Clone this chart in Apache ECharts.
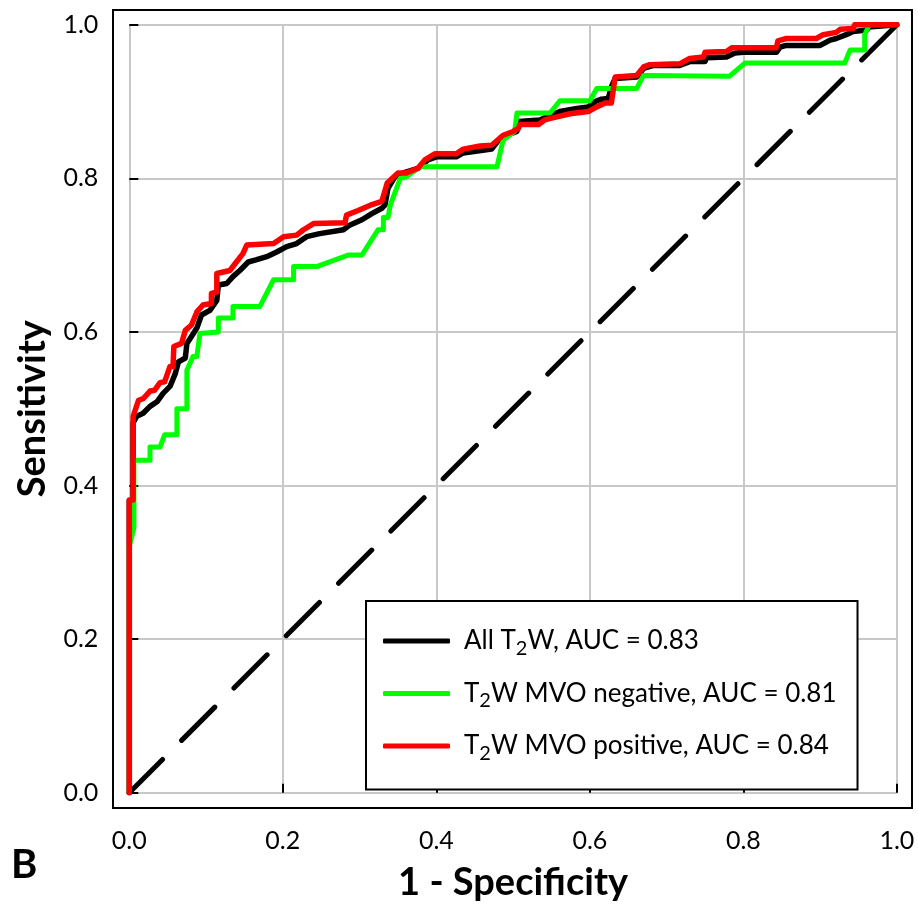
<!DOCTYPE html>
<html>
<head>
<meta charset="utf-8">
<title>ROC</title>
<script src="https://cdn.jsdelivr.net/npm/echarts@6/dist/echarts.min.js"></script>
<style>
  html, body { margin: 0; padding: 0; background: #fff; }
  #chart { width: 918px; height: 910px; }
</style>
</head>
<body>
<div id="chart"></div>
<script>
// ROC curves, [1 - specificity, sensitivity]
var allT2W = [
  [0,0],[0,0.38],[0.005,0.38],[0.005,0.482],[0.0096,0.49],[0.018,0.494],[0.027,0.503],[0.036,0.509],
  [0.044,0.52],[0.053,0.529],[0.060,0.546],[0.064,0.561],[0.073,0.566],[0.075,0.585],[0.081,0.594],
  [0.088,0.605],[0.094,0.622],[0.105,0.628],[0.114,0.641],[0.116,0.661],[0.127,0.663],[0.135,0.672],
  [0.144,0.68],[0.155,0.691],[0.166,0.694],[0.179,0.698],[0.192,0.704],[0.205,0.711],[0.218,0.715],
  [0.231,0.724],[0.248,0.728],[0.279,0.733],[0.287,0.739],[0.303,0.746],[0.316,0.754],[0.329,0.761],
  [0.333,0.765],[0.337,0.787],[0.346,0.802],[0.357,0.807],[0.376,0.813],[0.389,0.824],[0.400,0.828],
  [0.426,0.828],[0.435,0.833],[0.472,0.838],[0.483,0.852],[0.492,0.856],[0.505,0.861],[0.507,0.874],
  [0.535,0.876],[0.544,0.88],[0.561,0.887],[0.583,0.891],[0.598,0.893],[0.607,0.9],[0.615,0.903],
  [0.624,0.904],[0.628,0.919],[0.633,0.93],[0.661,0.932],[0.670,0.943],[0.683,0.947],[0.717,0.947],
  [0.730,0.952],[0.750,0.952],[0.752,0.957],[0.778,0.958],[0.789,0.963],[0.800,0.964],[0.843,0.964],
  [0.848,0.971],[0.856,0.973],[0.900,0.973],[0.913,0.98],[0.921,0.982],[0.934,0.987],[0.943,0.991],
  [0.961,0.993],[0.963,0.997],[1,1]
];
var mvoNegative = [
  [0,0],[0,0.32],[0.006,0.345],[0.006,0.433],[0.027,0.433],[0.027,0.45],[0.040,0.45],[0.046,0.466],
  [0.062,0.466],[0.062,0.5],[0.075,0.5],[0.075,0.55],[0.083,0.568],[0.088,0.568],[0.092,0.598],
  [0.116,0.6],[0.116,0.618],[0.135,0.618],[0.135,0.633],[0.170,0.633],[0.188,0.668],[0.214,0.668],
  [0.214,0.685],[0.244,0.685],[0.285,0.7],[0.303,0.7],[0.324,0.733],[0.331,0.733],[0.331,0.749],
  [0.337,0.749],[0.340,0.765],[0.353,0.8],[0.361,0.802],[0.379,0.815],[0.479,0.815],[0.487,0.85],
  [0.502,0.861],[0.505,0.885],[0.548,0.885],[0.561,0.901],[0.600,0.901],[0.609,0.917],[0.661,0.917],
  [0.670,0.934],[0.782,0.933],[0.802,0.95],[0.932,0.95],[0.939,0.967],[0.958,0.967],[0.958,0.987],
  [0.964,1],[1,1]
];
var mvoPositive = [
  [0,0],[0,0.381],[0.005,0.381],[0.005,0.49],[0.012,0.511],[0.018,0.513],[0.027,0.523],[0.033,0.524],
  [0.040,0.534],[0.046,0.535],[0.053,0.555],[0.057,0.555],[0.058,0.581],[0.068,0.585],[0.073,0.602],
  [0.081,0.609],[0.088,0.626],[0.096,0.635],[0.107,0.637],[0.107,0.65],[0.114,0.652],[0.114,0.676],
  [0.131,0.68],[0.138,0.689],[0.148,0.702],[0.153,0.713],[0.188,0.715],[0.201,0.724],[0.218,0.726],
  [0.227,0.733],[0.240,0.741],[0.281,0.742],[0.283,0.752],[0.298,0.758],[0.314,0.765],[0.329,0.77],
  [0.336,0.794],[0.350,0.807],[0.361,0.807],[0.376,0.813],[0.385,0.824],[0.398,0.832],[0.426,0.832],
  [0.435,0.838],[0.457,0.842],[0.472,0.843],[0.487,0.856],[0.500,0.861],[0.507,0.865],[0.509,0.87],
  [0.533,0.87],[0.541,0.876],[0.557,0.88],[0.574,0.884],[0.598,0.887],[0.609,0.893],[0.620,0.898],
  [0.628,0.898],[0.633,0.932],[0.661,0.934],[0.670,0.945],[0.678,0.948],[0.717,0.949],[0.730,0.956],
  [0.748,0.958],[0.750,0.964],[0.778,0.965],[0.785,0.97],[0.843,0.97],[0.845,0.979],[0.856,0.982],
  [0.895,0.982],[0.904,0.987],[0.921,0.99],[0.926,0.994],[0.943,0.995],[0.945,1],[1,1]
];
var chance = [[0,0],[1,1]];

var names = ['All T2W, AUC = 0.83', 'T2W MVO negative, AUC = 0.81', 'T2W MVO positive, AUC = 0.84'];
var colors = ['#000000', '#00ff00', '#ff0000'];

var chart = echarts.init(document.getElementById('chart'));

var tickAxis = function (name, gap) {
  return {
    type: 'value', min: 0, max: 1, interval: 0.2, offset: 16,
    name: name, nameLocation: 'middle', nameGap: gap,
    nameTextStyle: { fontFamily: 'Lato', fontWeight: 'bold', fontSize: 38, color: '#000' },
    axisLine: { show: false },
    axisTick: { show: true, inside: true, length: 9, lineStyle: { color: '#000', width: 2 } },
    axisLabel: { fontFamily: 'Lato', fontSize: 25, color: '#000', formatter: function (v) { return v.toFixed(1); } },
    splitLine: { show: true, lineStyle: { color: '#c8c8c8', width: 2 } }
  };
};

var xMain = tickAxis('1 - Specificity', 55);
xMain.axisLabel.margin = 20;
var yMain = tickAxis('Sensitivity', 62);
yMain.axisLabel.margin = 15;

function curve(i, data) {
  return {
    name: names[i], type: 'line', data: data, symbol: 'none',
    lineStyle: { color: colors[i], width: i === 1 ? 5 : 5.5, cap: 'round', join: 'round' },
    itemStyle: { color: colors[i] }
  };
}

chart.setOption({
  animation: false,
  grid: [
    { left: 129.3, right: 21.1, top: 24.7, bottom: 117.3 },
    { left: 113, right: 6, top: 10, bottom: 102, show: true, borderColor: '#000', borderWidth: 2, backgroundColor: 'transparent' }
  ],
  xAxis: [xMain, { gridIndex: 1, type: 'value', min: 0, max: 1, show: false }],
  yAxis: [yMain, { gridIndex: 1, type: 'value', min: 0, max: 1, show: false }],
  legend: {
    orient: 'vertical', left: 366, top: 601,
    data: names,
    icon: 'roundRect',
    itemWidth: 67, itemHeight: 5, itemGap: 22,
    padding: [27, 21, 26, 17],
    borderColor: '#000', borderWidth: 2, backgroundColor: '#fff',
    formatter: function (n) { return n.replace('T2W', 'T{s|2}W'); },
    textStyle: {
      fontFamily: 'Lato', fontSize: 26, color: '#000', padding: [0, 0, 0, 9],
      rich: { s: { fontFamily: 'Lato', fontSize: 20, color: '#000', padding: [15, 0, 0, 0] } }
    }
  },
  graphic: [
    { type: 'text', left: 11, top: 845, style: { text: 'B', font: 'bold 40px Lato', fill: '#000' } }
  ],
  series: [
    {
      name: 'chance', type: 'line', data: chance, symbol: 'none', silent: true,
      lineStyle: { color: '#000', width: 5, type: [47, 27], cap: 'round' }
    },
    curve(0, allT2W),
    curve(1, mvoNegative),
    curve(2, mvoPositive)
  ]
});
</script>
</body>
</html>
